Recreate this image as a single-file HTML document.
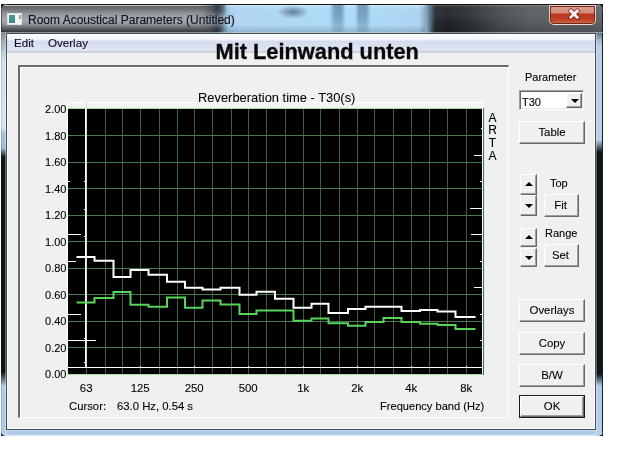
<!DOCTYPE html>
<html><head><meta charset="utf-8"><style>
*{margin:0;padding:0;box-sizing:border-box}
html,body{width:637px;height:455px;overflow:hidden;background:#fff}
body{position:relative;font-family:"Liberation Sans",Arial,sans-serif;color:#000}
.a{position:absolute}
#corner{left:1px;top:4px;width:602px;height:432px;background:#15191c}
#frame{left:1px;top:4px;width:602px;height:432px;border-radius:7px 7px 5px 5px;overflow:hidden;background:#b0cce8}
#tbar{left:0;top:0;width:602px;height:29px;
 background:linear-gradient(to right,#62676b 0px,#5e6367 200px,#44484c 209px,#262a2e 216px,#4e6478 221px,#a4cae8 227px,#b0d6f4 238px,#addaf6 326px,#addaf6 368px,#aed4f2 418px,#7f9fba 426px,#262b30 434px,#1f2327 446px,#2c3135 470px,#474c51 500px,#575c61 530px,#5c6166 602px)}
#tblue{left:224px;top:0;width:200px;height:29px;background:linear-gradient(to bottom,rgba(255,255,255,0) 0px,rgba(255,255,255,.45) 1px,rgba(255,255,255,.12) 3px,rgba(255,255,255,0) 7px,rgba(0,0,0,0) 21px,rgba(40,60,80,.22) 28px)}
#tspot{left:276px;top:1px;width:32px;height:14px;background:radial-gradient(ellipse closest-side,rgba(50,70,90,.6),rgba(50,70,90,0))}
#tstripe{left:328px;top:1px;width:44px;height:27px;background:linear-gradient(to right,rgba(60,95,130,0) 0px,rgba(60,95,130,.55) 6px,rgba(60,95,130,.55) 12px,rgba(60,95,130,0) 17px,rgba(60,95,130,0) 26px,rgba(60,95,130,.55) 30px,rgba(60,95,130,.55) 37px,rgba(60,95,130,0) 42px);
 -webkit-mask-image:linear-gradient(to bottom,#000 0px,rgba(0,0,0,.75) 14px,rgba(0,0,0,.35) 27px);mask-image:linear-gradient(to bottom,#000 0px,rgba(0,0,0,.75) 14px,rgba(0,0,0,.35) 27px)}
#tleft{left:0;top:0;width:228px;height:29px;
 background:linear-gradient(to bottom,#c4c8cc 0px,#c4c8cc 2px,#5e6266 2px,#6c7175 5px,#8d9296 9px,#a0a4a8 13px,#a4a8ac 17px,#92969a 20px,#62666a 24px,#3c4044 27px,#34383c 28px);
 -webkit-mask-image:linear-gradient(to right,#000 0px,#000 197px,rgba(0,0,0,0) 223px);mask-image:linear-gradient(to right,#000 0px,#000 197px,rgba(0,0,0,0) 223px)}
#tright{left:430px;top:0;width:172px;height:29px;background:linear-gradient(to bottom,rgba(255,255,255,0) 0px,rgba(255,255,255,.25) 1px,rgba(255,255,255,.06) 3px,rgba(255,255,255,.05) 11px,rgba(0,0,0,0) 19px,rgba(0,0,0,.15) 28px)}
#tglow{left:196px;top:7px;width:50px;height:18px;background:radial-gradient(ellipse closest-side,rgba(200,215,228,.55),rgba(200,215,228,0))}
#ttop{left:0;top:0;width:602px;height:1px;background:#121416}
#tredge{left:601px;top:0;width:1px;height:29px;background:#1a1e22}
#tledge{left:0;top:0;width:1px;height:29px;background:rgba(30,34,38,.6)}
#tline{left:0;top:28px;width:602px;height:1px;background:rgba(205,210,215,.6)}
#lstrip{left:0;top:29px;width:5px;height:403px;box-shadow:inset 1px 0 0 rgba(0,0,0,.12),inset -1px 0 0 rgba(255,255,255,.35);
 background:linear-gradient(to bottom,#8a9096 0px,#a8b8c8 12px,#cfdeee 27px,#d8e6f4 95px,#a8c4e0 100px,#a0bcd8 115px,#0e1616 124px,#0e1616 339px,#b0cce8 353px,#b0cce8 403px)}
#rstrip{left:595px;top:29px;width:7px;height:403px;box-shadow:inset -1px 0 0 #1a1e22,inset 1px 0 0 rgba(255,255,255,.35);
 background:linear-gradient(to bottom,#6a7075 0px,#9fb6cc 7px,#b8d0e8 14px,#b8d0e8 107px,#101618 119px,#101618 341px,#b0cce8 353px,#b0cce8 403px)}
#bstrip{left:5px;top:426px;width:590px;height:6px;background:linear-gradient(to bottom,#d8e8f8 0px,#b0cce8 1px,#acc8e6 4px,#d0e2f4 5px)}
#title{left:27px;top:8.5px;font-size:12.0px;color:#0e1420;-webkit-text-stroke:0.15px #0e1420;white-space:nowrap;letter-spacing:0px}
#icon{left:6px;top:9px;width:15px;height:12px;background:#f4f6f4;border:1px solid #dfe4e0}
#icon i{position:absolute;left:1px;top:1px;width:6px;height:8px;background:linear-gradient(#4a9a9c,#3a8f7c)}
#icon b{position:absolute;left:11px;top:1px;width:2px;height:4px;background:#9aa8a8}
#close{left:548px;top:1px;width:47px;height:20px;border-radius:0 0 5px 5px;border:1px solid rgba(255,235,230,.75);
 background:linear-gradient(to bottom,#dca092 0%,#d68b79 38%,#b83a22 45%,#bf3d22 70%,#cc5a3c 90%,#d47a5c 100%);box-shadow:0 0 0 1px #6a2a20 inset}
#close svg{position:absolute;left:0;top:0}
#client{left:5px;top:29px;width:590px;height:397px;background:#f0f0f0;border:1px solid #434c58;box-shadow:inset 0 0 0 1px #fbfbfb}
#menu{left:0;top:0;width:588px;height:19px;background:linear-gradient(to bottom,#fdfeff 0px,#f0f3fa 6px,#d6dcee 7px,#e0e5f3 17px,#b6bcc8 18px,#eef0f4 19px)}
.m{position:absolute;top:1.7px;font-size:11.6px;color:#101020;-webkit-text-stroke:0.15px #101020}
#big{left:208.5px;top:4.5px;font-size:21.8px;font-weight:bold;color:#0a0a0a;-webkit-text-stroke:0.3px #0a0a0a;white-space:nowrap}
#panel{left:12px;top:31px;width:491px;height:353px;border-top:2px solid #6a6a6a;border-left:2px solid #6a6a6a;border-bottom:1px solid #fff;border-right:1px solid #fff}
#panel:after{content:"";position:absolute;left:0;top:0;right:0;bottom:0;border-top:1px solid #fff;border-left:1px solid #fff}
.yl{position:absolute;left:26.5px;width:40px;text-align:right;font-size:11px;line-height:14px;color:#000;-webkit-text-stroke:0.1px #000}
.xl{position:absolute;top:381px;width:40px;text-align:center;font-size:11.4px;line-height:14px;color:#000;-webkit-text-stroke:0.1px #000}
.t{position:absolute;font-size:11px;line-height:14px;color:#000;white-space:nowrap;-webkit-text-stroke:0.1px #000}
.btn{position:absolute;background:#f0f0f0;border-top:1px solid #fff;border-left:1px solid #fff;border-right:1px solid #6a6a6a;border-bottom:1px solid #6a6a6a;box-shadow:inset -1px -1px 0 #a0a0a0;font-size:11.4px;text-align:center;color:#000;-webkit-text-stroke:0.1px #000}
.tri{position:absolute;width:0;height:0;border-left:4px solid transparent;border-right:4px solid transparent}
</style></head><body>
<div id="corner" class="a"></div>
 <div id="frame" class="a">
  <div id="tbar" class="a"></div>
  <div id="tleft" class="a"></div>
  <div id="tblue" class="a"></div>
  <div id="tspot" class="a"></div>
  <div id="tstripe" class="a"></div>
  <div id="tright" class="a"></div>
  <div id="tglow" class="a"></div>
  <div id="ttop" class="a"></div>
  <div id="tredge" class="a"></div>
  <div id="tledge" class="a"></div>
  <div id="tline" class="a"></div>
  <div id="lstrip" class="a"></div>
  <div id="rstrip" class="a"></div>
  <div id="bstrip" class="a"></div>
  <div id="icon" class="a"><i></i><b></b></div>
  <div id="title" class="a">Room Acoustical Parameters (Untitled)</div>
  <div id="close" class="a"><svg width="45" height="18" viewBox="0 0 45 18"><g stroke-linecap="square"><path d="M20.8 5L27.2 11.2M27.2 5L20.8 11.2" stroke="#5a1a10" stroke-width="5" opacity=".5"/><path d="M20.8 5L27.2 11.2M27.2 5L20.8 11.2" stroke="#f6f2f0" stroke-width="2.7"/></g></svg></div>
  <div id="client" class="a">
   <div id="menu" class="a"><span class="m" style="left:7px">Edit</span><span class="m" style="left:41px">Overlay</span></div>
   <div id="big" class="a">Mit Leinwand unten</div>
  </div>
 </div>
<div id="panel" class="a" style="left:18px;top:65px"></div>
<div class="yl" style="top:102.0px">2.00</div>
<div class="yl" style="top:128.5px">1.80</div>
<div class="yl" style="top:155.0px">1.60</div>
<div class="yl" style="top:181.5px">1.40</div>
<div class="yl" style="top:208.0px">1.20</div>
<div class="yl" style="top:234.5px">1.00</div>
<div class="yl" style="top:261.0px">0.80</div>
<div class="yl" style="top:287.5px">0.60</div>
<div class="yl" style="top:314.0px">0.40</div>
<div class="yl" style="top:340.5px">0.20</div>
<div class="yl" style="top:367.0px">0.00</div>
<div class="xl" style="left:66.2px">63</div>
<div class="xl" style="left:120.2px">125</div>
<div class="xl" style="left:174.2px">250</div>
<div class="xl" style="left:228.2px">500</div>
<div class="xl" style="left:283.2px">1k</div>
<div class="xl" style="left:337.2px">2k</div>
<div class="xl" style="left:391.2px">4k</div>
<div class="xl" style="left:446.2px">8k</div>
<div class="t" style="left:69px;top:398.8px;font-size:11.3px">Cursor:</div>
<div class="t" style="left:117px;top:398.8px;font-size:11.3px">63.0 Hz, 0.54 s</div>
<div class="t" style="left:380px;top:398.8px;font-size:11.1px">Frequency band (Hz)</div>
<svg class="a" style="left:0;top:0" width="637" height="455" viewBox="0 0 637 455">
 <rect x="67" y="102" width="416" height="7" fill="#f3f3f3"/>
 <rect x="68" y="109" width="414" height="265" fill="#000"/>
 <g stroke-width="1" shape-rendering="crispEdges">
<g stroke="#34603a"><line x1="86.5" y1="109" x2="86.5" y2="374"/><line x1="105.5" y1="109" x2="105.5" y2="374"/><line x1="122.5" y1="109" x2="122.5" y2="374"/><line x1="140.5" y1="109" x2="140.5" y2="374"/><line x1="159.5" y1="109" x2="159.5" y2="374"/><line x1="177.5" y1="109" x2="177.5" y2="374"/><line x1="194.5" y1="109" x2="194.5" y2="374"/><line x1="212.5" y1="109" x2="212.5" y2="374"/><line x1="231.5" y1="109" x2="231.5" y2="374"/><line x1="248.5" y1="109" x2="248.5" y2="374"/><line x1="266.5" y1="109" x2="266.5" y2="374"/><line x1="285.5" y1="109" x2="285.5" y2="374"/><line x1="303.5" y1="109" x2="303.5" y2="374"/><line x1="320.5" y1="109" x2="320.5" y2="374"/><line x1="339.5" y1="109" x2="339.5" y2="374"/><line x1="357.5" y1="109" x2="357.5" y2="374"/><line x1="374.5" y1="109" x2="374.5" y2="374"/><line x1="393.5" y1="109" x2="393.5" y2="374"/><line x1="411.5" y1="109" x2="411.5" y2="374"/><line x1="429.5" y1="109" x2="429.5" y2="374"/><line x1="447.5" y1="109" x2="447.5" y2="374"/><line x1="466.5" y1="109" x2="466.5" y2="374"/></g><g stroke="#467a4c"><line x1="68" y1="135.5" x2="483" y2="135.5"/><line x1="68" y1="162.0" x2="483" y2="162.0"/><line x1="68" y1="188.5" x2="483" y2="188.5"/><line x1="68" y1="215.0" x2="483" y2="215.0"/><line x1="68" y1="241.5" x2="483" y2="241.5"/><line x1="68" y1="268.0" x2="483" y2="268.0"/><line x1="68" y1="294.5" x2="483" y2="294.5"/><line x1="68" y1="321.0" x2="483" y2="321.0"/><line x1="68" y1="347.5" x2="483" y2="347.5"/></g>
 </g>
 <g stroke-width="1" shape-rendering="crispEdges">
  <line x1="67" y1="108.5" x2="484" y2="108.5" stroke="#a4dca4"/>
  <line x1="67" y1="374.5" x2="484" y2="374.5" stroke="#a8e0a8"/>
  <line x1="483.5" y1="108" x2="483.5" y2="375" stroke="#4e7052"/>
  <line x1="484.5" y1="108" x2="484.5" y2="375" stroke="#dcf2de"/>
 </g>
 <polyline points="67.5,367.5 67.5,102.5 482.5,102.5 482.5,367.5 67,367.5" fill="none" stroke="#fff" stroke-width="1" shape-rendering="crispEdges"/>
 <line x1="67.5" y1="367" x2="67.5" y2="375" stroke="#cfeecf" stroke-width="1" shape-rendering="crispEdges"/>
 <g stroke="#fff" stroke-width="1" shape-rendering="crispEdges"><line x1="140.5" y1="366" x2="140.5" y2="367"/><line x1="194.5" y1="366" x2="194.5" y2="367"/><line x1="248.5" y1="366" x2="248.5" y2="367"/><line x1="303.5" y1="366" x2="303.5" y2="367"/><line x1="357.5" y1="366" x2="357.5" y2="367"/><line x1="411.5" y1="366" x2="411.5" y2="367"/><line x1="466.5" y1="366" x2="466.5" y2="367"/></g>
 <line x1="85.5" y1="102" x2="85.5" y2="367" stroke="#f6faf4" stroke-width="1" shape-rendering="crispEdges"/>
 <line x1="86.5" y1="102" x2="86.5" y2="367" stroke="#c8e4c4" stroke-width="1" shape-rendering="crispEdges"/>
 <g stroke="#fff" stroke-width="1" shape-rendering="crispEdges">
  <line x1="68" y1="234.5" x2="81" y2="234.5"/>
  <line x1="68" y1="261.5" x2="76" y2="261.5"/>
  <line x1="68" y1="314.5" x2="81" y2="314.5"/>
  <line x1="68" y1="340.5" x2="96" y2="340.5"/>
  <line x1="68" y1="181.5" x2="70" y2="181.5"/>
  <line x1="481" y1="128.5" x2="483" y2="128.5"/>
  <line x1="474" y1="155.5" x2="483" y2="155.5"/>
  <line x1="480" y1="181.5" x2="483" y2="181.5"/>
  <line x1="470" y1="208.5" x2="483" y2="208.5"/>
  <line x1="471" y1="234.5" x2="483" y2="234.5"/>
  <line x1="480" y1="261.5" x2="483" y2="261.5"/>
  <line x1="474" y1="287.5" x2="483" y2="287.5"/>
  <line x1="480" y1="314.5" x2="483" y2="314.5"/>
  <line x1="480" y1="340.5" x2="483" y2="340.5"/>
  <line x1="84" y1="181.5" x2="85" y2="181.5"/>
  <line x1="84" y1="209.5" x2="85" y2="209.5"/>
  <line x1="84" y1="236.5" x2="85" y2="236.5"/>
  <line x1="84" y1="338.5" x2="85" y2="338.5"/>
  <line x1="84" y1="362.5" x2="85" y2="362.5"/>
 </g>
 <polyline points="76.5,256.9 94.5,256.9 94.5,260.8 113.5,260.8 113.5,277.0 130.5,277.0 130.5,270.0 148.5,270.0 148.5,274.8 167.0,274.8 167.0,281.8 185.0,281.8 185.0,287.8 202.5,287.8 202.5,289.6 220.5,289.6 220.5,287.7 239.5,287.7 239.5,294.7 256.5,294.7 256.5,291.8 275.0,291.8 275.0,298.7 293.5,298.7 293.5,307.7 311.5,307.7 311.5,303.7 328.5,303.7 328.5,312.9 348.0,312.9 348.0,309.0 365.5,309.0 365.5,306.7 383.5,306.7 383.5,306.8 401.5,306.8 401.5,311.0 420.0,311.0 420.0,309.9 437.5,309.9 437.5,311.6 455.5,311.6 455.5,317.0 475.5,317.0" fill="none" stroke="#fff" stroke-width="2"/>
 <polyline points="76.5,302.4 94.5,302.4 94.5,298.1 113.5,298.1 113.5,292.0 130.5,292.0 130.5,304.8 148.5,304.8 148.5,306.8 167.0,306.8 167.0,297.5 185.0,297.5 185.0,307.8 202.5,307.8 202.5,300.6 220.5,300.6 220.5,304.5 239.5,304.5 239.5,314.0 256.5,314.0 256.5,310.6 275.0,310.6 275.0,310.6 293.5,310.6 293.5,320.8 311.5,320.8 311.5,318.5 328.5,318.5 328.5,323.3 348.0,323.3 348.0,325.8 365.5,325.8 365.5,321.9 383.5,321.9 383.5,318.0 401.5,318.0 401.5,322.0 420.0,322.0 420.0,323.7 437.5,323.7 437.5,324.9 455.5,324.9 455.5,329.0 475.5,329.0" fill="none" stroke="#58d45c" stroke-width="2"/>
</svg>
<div class="t" style="left:198px;top:89.5px;font-size:12.9px;line-height:15px;-webkit-text-stroke:0.05px #000">Reverberation time - T30(s)</div>
<div class="t" style="left:488px;top:111.5px;font-size:12px;line-height:12.75px;width:9px;text-align:center">A<br>R<br>T<br>A</div>

<div class="t" style="left:525px;top:70.3px">Parameter</div>
<div class="a" style="left:519px;top:90px;width:65px;height:20px;background:#fff;border-top:1px solid #a0a0a0;border-left:1px solid #a0a0a0;border-right:1px solid #fff;border-bottom:1px solid #fff;box-shadow:inset 1px 1px 0 #696969, inset -1px -1px 0 #e3e3e3">
 <div class="t" style="left:2px;top:4px">T30</div>
 <div class="btn" style="left:46px;top:2px;width:16px;height:15px"><div class="tri" style="left:3.5px;top:5px;border-top:4px solid #000"></div></div>
</div>
<div class="btn" style="left:519px;top:121px;width:66px;height:23px;line-height:21px">Table</div>

<div class="btn" style="left:520px;top:174px;width:17px;height:21px"><div class="tri" style="left:4px;top:7px;border-bottom:4px solid #000"></div></div>
<div class="btn" style="left:520px;top:195px;width:17px;height:21px"><div class="tri" style="left:4px;top:8px;border-top:4px solid #000"></div></div>
<div class="t" style="left:550px;top:176px">Top</div>
<div class="btn" style="left:544px;top:194px;width:35px;height:23px;line-height:21px;padding-right:2px">Fit</div>

<div class="btn" style="left:520px;top:228px;width:17px;height:19px"><div class="tri" style="left:4px;top:6px;border-bottom:4px solid #000"></div></div>
<div class="btn" style="left:520px;top:248px;width:17px;height:19px"><div class="tri" style="left:4px;top:7px;border-top:4px solid #000"></div></div>
<div class="t" style="left:545px;top:226px">Range</div>
<div class="btn" style="left:544px;top:244px;width:35px;height:23px;line-height:21px;padding-right:2px">Set</div>

<div class="btn" style="left:519px;top:299px;width:66px;height:23px;line-height:21px">Overlays</div>
<div class="btn" style="left:519px;top:332px;width:66px;height:23px;line-height:21px">Copy</div>
<div class="btn" style="left:519px;top:364px;width:66px;height:23px;line-height:21px">B/W</div>
<div class="a" style="left:519px;top:395px;width:66px;height:23px;border:1px solid #1a1a1a"></div><div class="btn" style="left:520px;top:396px;width:64px;height:21px;line-height:19px">OK</div>
</body></html>
